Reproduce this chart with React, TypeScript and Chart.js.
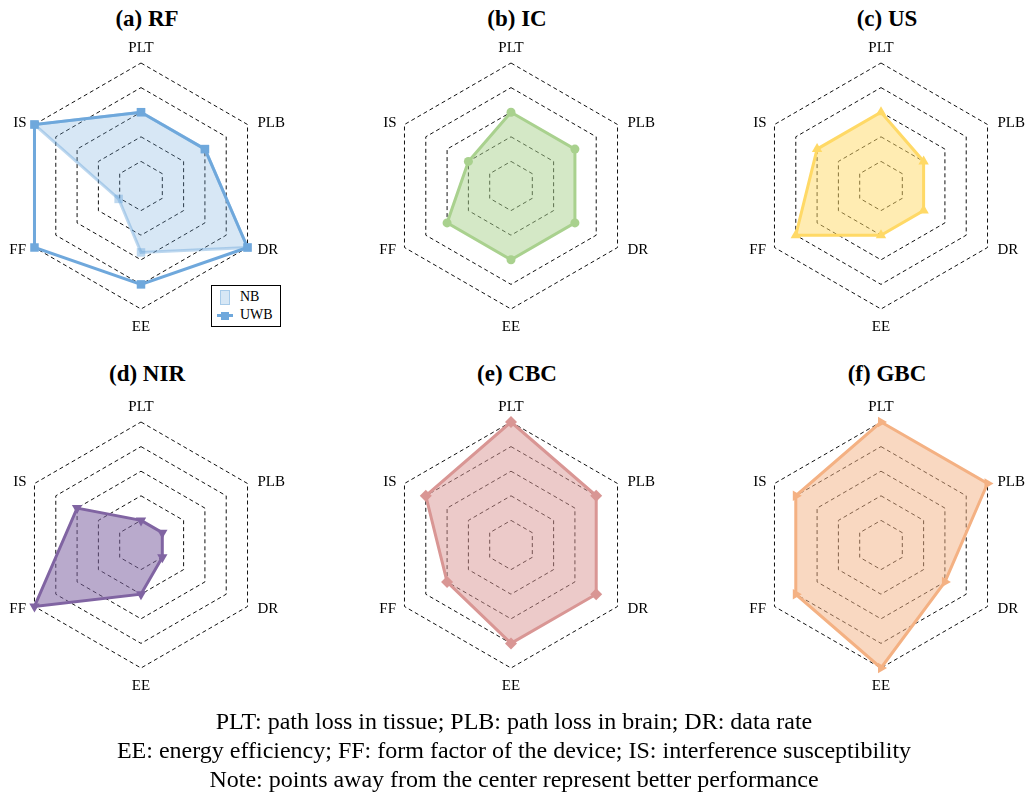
import React, { useEffect, useRef } from "react";
import { Chart, registerables } from "chart.js";

Chart.register(...registerables);

// ---- data ----
const AXES = ["PLT", "PLB", "DR", "EE", "FF", "IS"];
const RF_NB = [3, 3, 5, 2.7, 1.05, 5];
const RF_UWB = [3, 3, 5, 4, 5, 5];
const IC = [3, 3, 3, 3, 3, 2];
const US = [3, 2, 2, 2, 4, 3];
const NIR = [1, 1, 1, 2, 5, 3];
const CBC = [5, 4, 4, 4, 3, 4];
const GBC = [5, 5, 3, 5, 4, 4];
const TITLES = ["(a) RF", "(b) IC", "(c) US", "(d) NIR", "(e) CBC", "(f) GBC"];
const FOOTER = [
  "PLT: path loss in tissue; PLB: path loss in brain; DR: data rate",
  "EE: energy efficiency; FF: form factor of the device; IS: interference susceptibility",
  "Note: points away from the center represent better performance",
];
const SERIF = "'Liberation Serif', 'Times New Roman', serif";

// ---- layout ----
const COL_X = [141, 511, 881];
const ROW_Y = [186, 545];
const HALF = 170;
const R = 123;

type DS = {
  label: string;
  data: number[];
  color: string;
  fill: string | null;
  pointStyle: string;
  radius: number;
  rotation?: number;
};

const PANELS: DS[][] = [
  [
    { label: "NB", data: RF_NB, color: "rgba(111,168,220,0.45)", fill: "rgba(111,168,220,0.28)", pointStyle: "rect", radius: 6 },
    { label: "UWB", data: RF_UWB, color: "#6fa8dc", fill: null, pointStyle: "rect", radius: 6 },
  ],
  [{ label: "IC", data: IC, color: "#a9d18e", fill: "rgba(169,209,142,0.5)", pointStyle: "circle", radius: 4.5 }],
  [{ label: "US", data: US, color: "#ffd966", fill: "rgba(255,217,102,0.5)", pointStyle: "triangle", radius: 6 }],
  [{ label: "NIR", data: NIR, color: "#8064a2", fill: "rgba(128,100,162,0.55)", pointStyle: "triangle", radius: 6, rotation: 180 }],
  [{ label: "CBC", data: CBC, color: "#d99694", fill: "rgba(217,150,148,0.5)", pointStyle: "rectRot", radius: 6 }],
  [{ label: "GBC", data: GBC, color: "#f4b183", fill: "rgba(244,177,131,0.5)", pointStyle: "triangle", radius: 6, rotation: 90 }],
];

const labelPlugin = {
  id: "hexLabels",
  afterDraw(chart: any) {
    const s = chart.scales.r;
    const ctx = chart.ctx;
    ctx.save();
    ctx.font = `15px ${SERIF}`;
    ctx.fillStyle = "#000";
    ctx.textBaseline = "middle";
    AXES.forEach((lab, i) => {
      const p = s.getPointPosition(i, s.drawingArea);
      let x = p.x;
      let y = p.y;
      let align: CanvasTextAlign = "center";
      if (i === 0) y -= 15;
      else if (i === 3) y += 18.5;
      else if (i === 1) { x += 10; y -= 1.5; align = "left"; }
      else if (i === 2) { x += 10; y += 3; align = "left"; }
      else if (i === 4) { x -= 8.5; y += 3; align = "right"; }
      else { x -= 8; y -= 1.5; align = "right"; }
      ctx.textAlign = align;
      ctx.fillText(lab, x, y);
    });
    ctx.restore();
  },
};

function RadarPanel({ idx }: { idx: number }) {
  const ref = useRef<HTMLCanvasElement | null>(null);
  useEffect(() => {
    if (!ref.current) return;
    const sets = PANELS[idx];
    const chart = new Chart(ref.current, {
      type: "radar",
      data: {
        labels: AXES,
        datasets: sets.map((d) => ({
          label: d.label,
          data: d.data,
          borderColor: d.color,
          backgroundColor: d.fill || "rgba(0,0,0,0)",
          fill: d.fill ? true : false,
          borderWidth: 3,
          pointStyle: d.pointStyle as any,
          pointRadius: d.radius,
          pointRotation: d.rotation || 0,
          pointBackgroundColor: d.color,
          pointBorderColor: d.color,
          pointBorderWidth: 0,
          clip: false as any,
          tension: 0,
        })),
      },
      options: {
        responsive: false,
        animation: false,
        layout: { padding: HALF - R },
        plugins: {
          legend: { display: false },
          tooltip: { enabled: false },
        },
        scales: {
          r: {
            min: 0,
            max: 5,
            ticks: { display: false, stepSize: 1 },
            angleLines: { display: false },
            pointLabels: { display: false },
            grid: { color: "#111", lineWidth: 1 },
            border: { dash: [4, 3] } as any,
          },
        },
      } as any,
      plugins: [labelPlugin],
    });
    return () => chart.destroy();
  }, [idx]);
  const cx = COL_X[idx % 3];
  const cy = ROW_Y[Math.floor(idx / 3)];
  return (
    <canvas
      ref={ref}
      width={HALF * 2}
      height={HALF * 2}
      style={{ position: "absolute", left: cx - HALF, top: cy - HALF, width: HALF * 2, height: HALF * 2 }}
    />
  );
}

export default function App() {
  const titleY = [19, 374];
  return (
    <div style={{ position: "absolute", left: 0, top: 0, width: 1025, height: 799, background: "#fff", overflow: "hidden" }}>
      {TITLES.map((t, i) => (
        <div
          key={t}
          style={{
            position: "absolute",
            left: COL_X[i % 3] + 6 - 100,
            top: titleY[Math.floor(i / 3)] - 15,
            width: 200,
            height: 30,
            lineHeight: "30px",
            textAlign: "center",
            fontFamily: SERIF,
            fontWeight: "bold",
            fontSize: 23,
            color: "#000",
          }}
        >
          {t}
        </div>
      ))}
      {PANELS.map((_, i) => (
        <RadarPanel key={i} idx={i} />
      ))}
      <div
        style={{
          position: "absolute",
          left: 211,
          top: 285,
          width: 68,
          height: 40,
          border: "1px solid #000",
          background: "#fff",
          fontFamily: SERIF,
          fontSize: 14,
          color: "#000",
        }}
      >
        <div style={{ position: "absolute", left: 8, top: 4, width: 10, height: 15, background: "rgba(111,168,220,0.28)", border: "1.5px solid rgba(111,168,220,0.45)", boxSizing: "border-box" }} />
        <div style={{ position: "absolute", left: 28, top: 2, lineHeight: "18px" }}>NB</div>
        <div style={{ position: "absolute", left: 5, top: 28, width: 16, height: 3, background: "#6fa8dc" }} />
        <div style={{ position: "absolute", left: 9, top: 25.5, width: 8, height: 8, background: "#6fa8dc" }} />
        <div style={{ position: "absolute", left: 28, top: 20, lineHeight: "18px" }}>UWB</div>
      </div>
      <div
        style={{
          position: "absolute",
          left: 0,
          width: 1028,
          top: 707,
          textAlign: "center",
          fontFamily: SERIF,
          fontSize: 24,
          lineHeight: "29px",
          color: "#000",
        }}
      >
        {FOOTER.map((l) => (
          <div key={l}>{l}</div>
        ))}
      </div>
    </div>
  );
}
